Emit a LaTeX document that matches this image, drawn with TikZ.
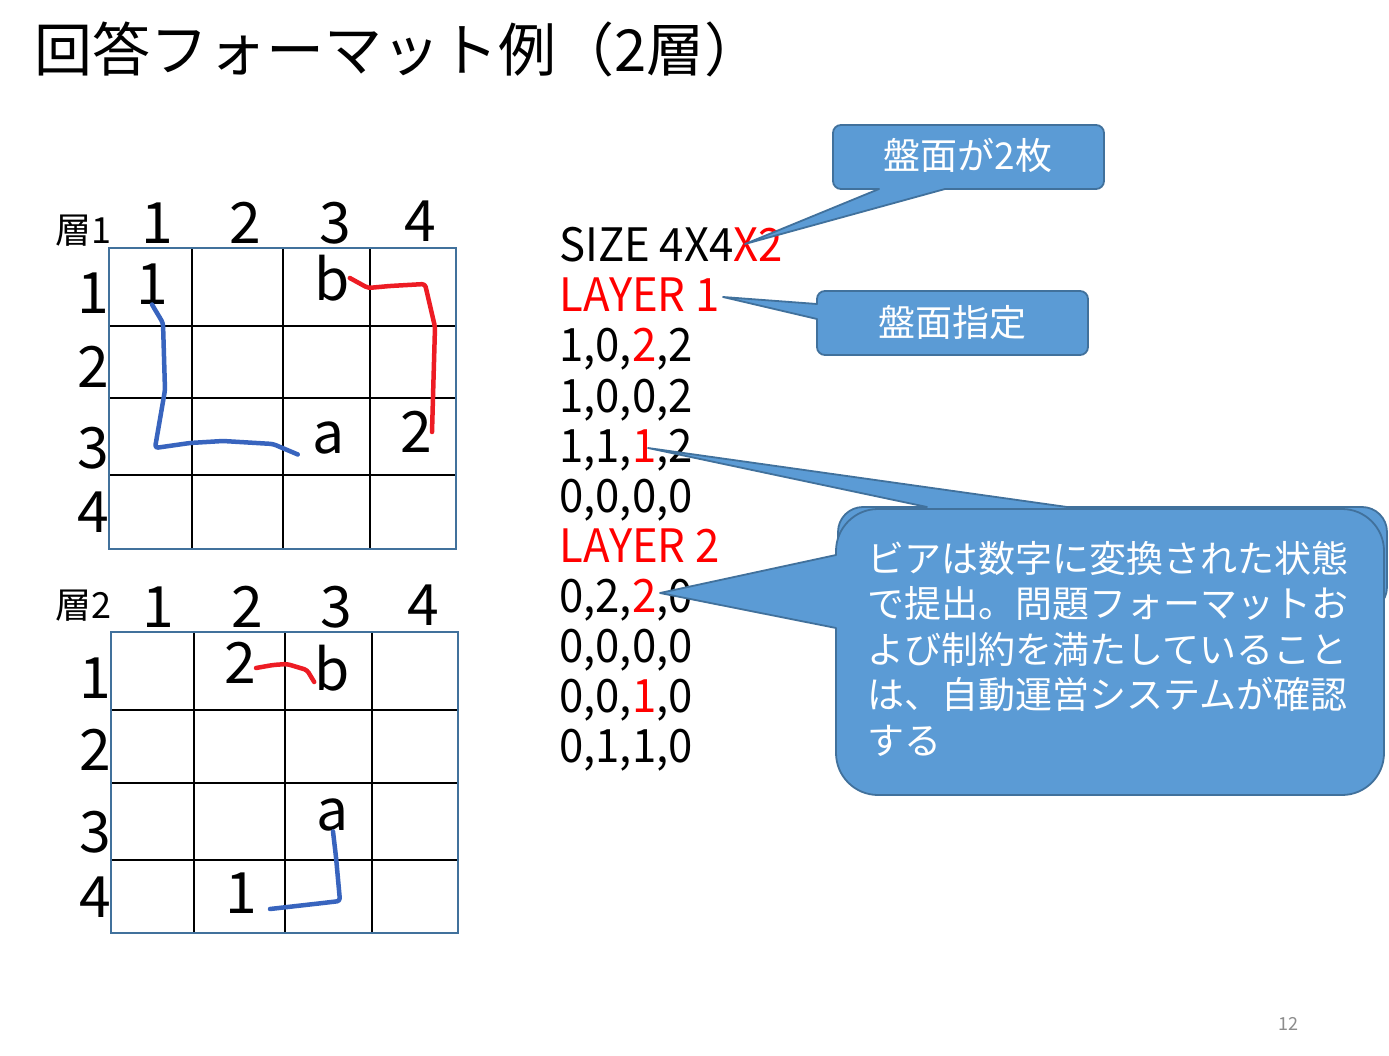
\documentclass[tikz,border=0pt]{standalone}
\usepackage{fontspec}
\setmainfont{Noto Sans CJK JP}
\definecolor{calloutfill}{RGB}{91,155,213}
\definecolor{calloutline}{RGB}{65,113,156}
\definecolor{codered}{RGB}{255,0,0}
\definecolor{penred}{RGB}{237,28,36}
\definecolor{penblue}{RGB}{56,100,190}
\definecolor{pagegray}{RGB}{140,140,140}
\begin{document}
\begin{tikzpicture}[x=1pt,y=-1pt,
    gridline/.style={line width=1.2pt},
    gridframe/.style={draw=calloutline,line width=2pt},
    hand/.style={line width=4.5pt,line cap=round,line join=round,rounded corners=3pt},
    bubble/.style={fill=calloutfill,draw=calloutline,line width=1.8pt,line join=round},
    lbl/.style={inner sep=0pt,font=\fontsize{57}{57}\selectfont},
    tag/.style={inner sep=0pt,font=\fontsize{36}{36}\selectfont},
    codeline/.style={anchor=base west,inner sep=0pt,font=\fontsize{46}{50}\selectfont\addfontfeatures{FakeStretch=0.95}},
    notetext/.style={anchor=base west,inner sep=0pt,text=white,font=\fontsize{37}{45}\selectfont}]
    \path[fill=white] (0,0) rectangle (1389,1056);
    \node[anchor=base west,inner sep=0pt,font=\fontsize{58}{58}\selectfont] (title) at (34,72) {回答フォーマット例（2層）};

    % layer 1
    \draw[gridline] (192,248) -- (192,549) (283,248) -- (283,549) (370,248) -- (370,549);
    \draw[gridline] (109,326) -- (456,326) (109,398) -- (456,398) (109,475) -- (456,475);
    \draw[gridframe] (109,248) rectangle (456,549);
    \node[tag] (layer1) at (83,231) {層1};
    \node[lbl] (c1) at (157,223) {1};
    \node[lbl] (c2) at (245,223) {2};
    \node[lbl] (c3) at (335,223) {3};
    \node[lbl] (c4) at (420,221) {4};
    \node[lbl] (r1) at (93,293) {1};
    \node[lbl] (r2) at (93,367) {2};
    \node[lbl] (r3) at (93,448) {3};
    \node[lbl] (r4) at (93,512) {4};
    \node[lbl] (one1) at (152,284) {1};
    \node[lbl] (b1) at (332,278) {b};
    \node[lbl] (a1) at (329,438) {a};
    \node[lbl] (two1) at (416,432) {2};
    \draw[hand,penred] (b1.east) -- (368,288) -- (390,286) -- (425,284) -- (435,327) -- (433,397) -- (two1.east);
    \draw[hand,penblue] (one1.south) -- (163,323) -- (165,390) -- (155,448) -- (190,443) -- (223,441) -- (273,444) -- ([xshift=-15pt]a1.south west);

    % layer 2
    \draw[gridline] (194,632) -- (194,933) (285,632) -- (285,933) (372,632) -- (372,933);
    \draw[gridline] (111,710) -- (458,710) (111,783) -- (458,783) (111,860) -- (458,860);
    \draw[gridframe] (111,632) rectangle (458,933);
    \node[tag] (layer2) at (83,606) {層2};
    \node[lbl] (d1) at (158,607) {1};
    \node[lbl] (d2) at (247,607) {2};
    \node[lbl] (d3) at (336,607) {3};
    \node[lbl] (d4) at (423,605) {4};
    \node[lbl] (s1) at (95,678) {1};
    \node[lbl] (s2) at (95,750) {2};
    \node[lbl] (s3) at (95,832) {3};
    \node[lbl] (s4) at (95,897) {4};
    \node[lbl] (two2) at (240,663) {2};
    \node[lbl] (b2) at (332,668) {b};
    \node[lbl] (a2) at (333,815) {a};
    \node[lbl] (one2) at (241,893) {1};
    \draw[hand,penred] ([yshift=-5pt]two2.east) -- (273,665) -- (287,664) -- (307,670) -- ([yshift=-14pt]b2.west);
    \draw[hand,penblue] (a2.south) -- (336,857) -- (340,901) -- (323,903) -- ([xshift=13pt,yshift=-16pt]one2.east);

    % answer text
    \node[codeline] (l1) at (559,262) {SIZE 4X4\textcolor{codered}{X2}};
    \node[codeline,text=codered] (l2) at (559,312) {LAYER 1};
    \node[codeline] (l3) at (559,362) {1,0,\textcolor{codered}{2},2};
    \node[codeline] (l4) at (559,412) {1,0,0,2};
    \node[codeline] (l5) at (559,462) {1,1,\textcolor{codered}{1},2};
    \node[codeline] (l6) at (559,512) {0,0,0,0};
    \node[codeline,text=codered] (l7) at (559,562) {LAYER 2};
    \node[codeline] (l8) at (559,612) {0,2,\textcolor{codered}{2},0};
    \node[codeline] (l9) at (559,662) {0,0,0,0};
    \node[codeline] (l10) at (559,712) {0,0,\textcolor{codered}{1},0};
    \node[codeline] (l11) at (559,762) {0,1,1,0};

    % callouts
    \coordinate (tipsize) at (745,244);
    \coordinate (tiplayer) at (723,297);
    \coordinate (tipback) at (648,448);
    \coordinate (tipfront) at (660,593);
    \draw[bubble] (841,125) -- (1096,125) arc[start angle=270,end angle=360,radius=8] -- (1104,181)
        arc[start angle=0,end angle=90,radius=8] -- (945,189) -- (tipsize) -- (879,189) -- (841,189)
        arc[start angle=90,end angle=180,radius=8] -- (833,133) arc[start angle=180,end angle=270,radius=8] -- cycle;
    \node[inner sep=0pt,text=white,font=\fontsize{37}{37}\selectfont] (note1) at (968,155) {盤面が2枚};
    \draw[bubble] (825,291) -- (1080,291) arc[start angle=270,end angle=360,radius=8] -- (1088,347)
        arc[start angle=0,end angle=90,radius=8] -- (825,355) arc[start angle=90,end angle=180,radius=8]
        -- (817,319) -- (tiplayer) -- (817,304) -- (817,299) arc[start angle=180,end angle=270,radius=8] -- cycle;
    \node[inner sep=0pt,text=white,font=\fontsize{37}{37}\selectfont] (note2) at (952,322) {盤面指定};
    \draw[bubble] (863,507) -- (927,507) -- (tipback) -- (1067,507) -- (1362,507)
        arc[start angle=270,end angle=360,radius=25] -- (1387,587) arc[start angle=0,end angle=90,radius=25]
        -- (863,612) arc[start angle=90,end angle=180,radius=25] -- (838,532)
        arc[start angle=180,end angle=270,radius=25] -- cycle;
    \draw[bubble] (878,509) -- (1342,509) arc[start angle=270,end angle=360,radius=42] -- (1384,753)
        arc[start angle=0,end angle=90,radius=42] -- (878,795) arc[start angle=90,end angle=180,radius=42]
        -- (836,628) -- (tipfront) -- (836,555) -- (836,551) arc[start angle=180,end angle=270,radius=42] -- cycle;
    \node[notetext] (n1) at (867,572) {ビアは数字に変換された状態};
    \node[notetext] (n2) at (867,617.5) {で提出。問題フォーマットお};
    \node[notetext] (n3) at (867,663) {よび制約を満たしていること};
    \node[notetext] (n4) at (867,708.5) {は、自動運営システムが確認};
    \node[notetext] (n5) at (867,754) {する};

    \node[inner sep=0pt,text=pagegray,font=\fontsize{18}{18}\selectfont] (page) at (1288,1024) {12};
\end{tikzpicture}
\end{document}
